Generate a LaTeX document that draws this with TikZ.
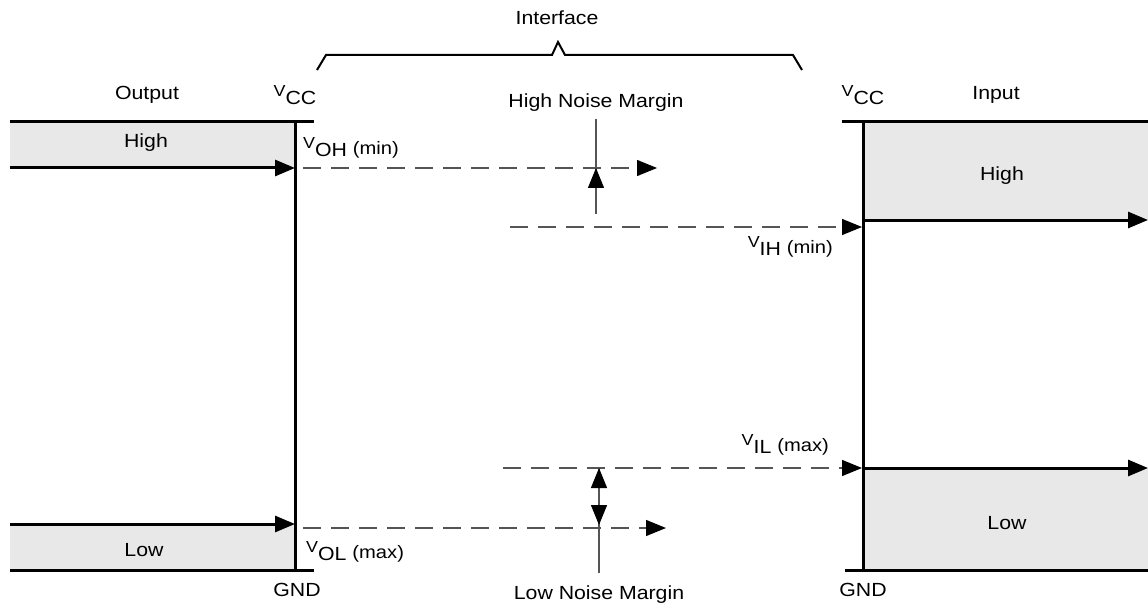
\documentclass[tikz,border=0pt]{standalone}
\usepackage{fontspec}
\setmainfont{Liberation Sans}[FakeStretch=1.12]
\usetikzlibrary{arrows.meta}
\definecolor{Band}{HTML}{E8E8E8}
\definecolor{Dash}{HTML}{555555}
\newcommand{\vname}[1]{\raisebox{8pt}{\fontsize{16}{16}\selectfont V}#1}
\newcommand{\vlevel}[2]{\vname{#1} \raisebox{2pt}{\fontsize{18}{18}\selectfont #2}}
\tikzset{rail/.style={line width=3pt},level/.style={line width=3pt,-{Triangle[length=20pt,width=16pt]}},probe/.style={line width=1.3pt,draw=Dash,dash pattern=on 18pt off 10pt,-{Triangle[length=20pt,width=16pt,color=black]}},margin/.style={line width=1.3pt,draw=Dash},tip/.style={-{Triangle[length=20pt,width=16pt,color=black]},line width=1.3pt,draw=Dash},band/.style={fill=Band,draw=none}}

\begin{document}
\begin{tikzpicture}[x=1pt,y=-1pt,every node/.style={font=\fontsize{19}{22}\selectfont,inner sep=0pt,anchor=base}]
  \useasboundingbox (0,0) rectangle (1148,604);
  % grey bands
  \fill[band] (10,122) rectangle (295,168);
  \fill[band] (10,524) rectangle (295,570);
  \fill[band] (863,122) rectangle (1148,220);
  \fill[band] (863,468) rectangle (1148,570);
  % interface brace
  \node (iface) at (557,25) {Interface};
  \coordinate (bl) at (317,70); \coordinate (br) at (802,70); \coordinate (bpk) at (558,42);
  \draw[line width=2pt] (bl) -- (326,55) -- (552,55) -- (bpk) -- (565,55) -- (793,55) -- (br);
  % output side
  \node (out) at (147,100) {Output};
  \node (ovcc) at (295,105) {\vname{CC}};
  \node (ognd) at (297,596) {GND};
  \node (ohigh) at (146,148) {High};
  \node (olow) at (144,556) {Low};
  \coordinate (otl) at (10,122); \coordinate (otr) at (314,122);
  \coordinate (obl) at (10,570); \coordinate (obr) at (314,570);
  \coordinate (ovt) at (295,122); \coordinate (ovb) at (295,570);
  \draw[rail] (otl) -- (otr);
  \draw[rail] (obl) -- (obr);
  \draw[rail] (ovt) -- (ovb);
  \coordinate (ohs) at (10,168); \coordinate (ohe) at (295,168);
  \coordinate (ols) at (10,524); \coordinate (ole) at (295,524);
  \draw[level] (ohs) -- (ohe);
  \draw[level] (ols) -- (ole);
  % input side
  \node (inp) at (996,100) {Input};
  \node (ivcc) at (863,105) {\vname{CC}};
  \node (ignd) at (863,596) {GND};
  \node (ihigh) at (1002,181) {High};
  \node (ilow) at (1007,529) {Low};
  \coordinate (itl) at (842,122); \coordinate (itr) at (1148,122);
  \coordinate (ibl) at (845,570); \coordinate (ibr) at (1148,570);
  \coordinate (ivt) at (863,122); \coordinate (ivb) at (863,570);
  \draw[rail] (itl) -- (itr);
  \draw[rail] (ibl) -- (ibr);
  \draw[rail] (ivt) -- (ivb);
  \coordinate (ihs) at (863,220); \coordinate (ihe) at (1148,220);
  \coordinate (ils) at (863,468); \coordinate (ile) at (1148,468);
  \draw[level] (ihs) -- (ihe);
  \draw[level] (ils) -- (ile);
  % level thresholds
  \node[anchor=base west] (voh) at (303,157) {\vlevel{OH}{(min)}};
  \node[anchor=base west] (vol) at (306,560) {\vlevel{OL}{(max)}};
  \node[anchor=base east] (vih) at (833,255) {\vlevel{IH}{(min)}};
  \node[anchor=base east] (vil) at (829,453) {\vlevel{IL}{(max)}};
  \coordinate (vohs) at (303,168); \coordinate (vohe) at (657,168);
  \coordinate (vols) at (303,528); \coordinate (vole) at (666,528);
  \coordinate (vihs) at (510,227); \coordinate (vihe) at (862,227);
  \coordinate (vils) at (503,468); \coordinate (vile) at (862,468);
  \draw[probe] (vohs) -- (vohe);
  \draw[probe] (vols) -- (vole);
  \draw[probe] (vihs) -- (vihe);
  \draw[probe] (vils) -- (vile);
  % noise margins
  \node (hnm) at (596,108) {High Noise Margin};
  \node (lnm) at (599,599) {Low Noise Margin};
  \coordinate (hnt) at (596,119); \coordinate (hnb) at (596,214);
  \coordinate (lnt) at (599,468); \coordinate (lnb) at (599,573);
  \draw[margin] (hnt) -- (hnb);
  \draw[margin] (lnt) -- (lnb);
  \draw[tip] (596,189) -- (596,168);
  \draw[tip] (599,490) -- (599,468);
  \draw[tip] (599,503) -- (599,525);
\end{tikzpicture}
\end{document}
